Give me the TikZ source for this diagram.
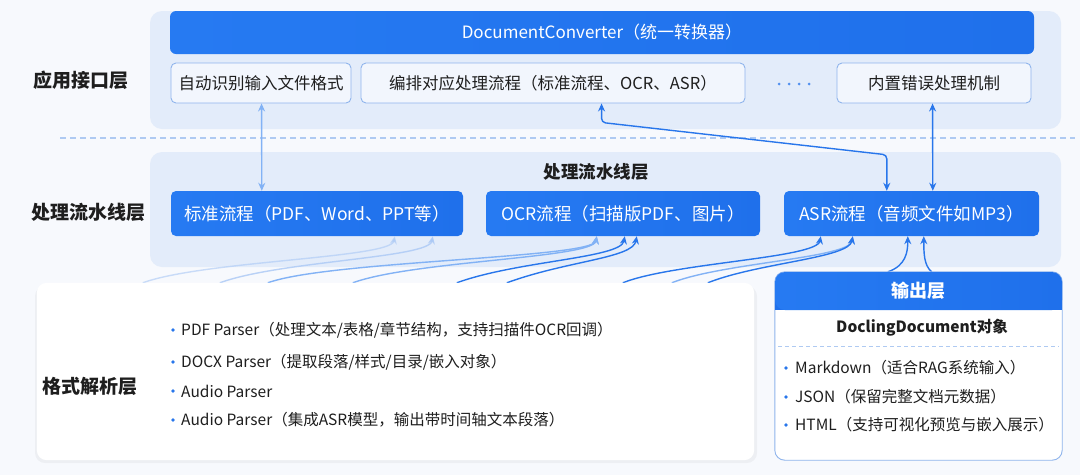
\documentclass[tikz,border=0pt]{standalone}
\usepackage{fontspec}
\setmainfont{Noto Sans CJK SC}
\usetikzlibrary{arrows.meta,calc}
\definecolor{pagebg}{RGB}{247,249,253}
\definecolor{panelc}{RGB}{227,236,250}
\definecolor{barblue}{RGB}{31,112,235}
\definecolor{barblueL}{RGB}{38,122,242}
\definecolor{rowfill}{RGB}{242,246,253}
\definecolor{rowline}{RGB}{143,180,236}
\definecolor{txt}{RGB}{30,30,30}
\definecolor{arrlt}{RGB}{130,178,245}
\definecolor{arrmd}{RGB}{40,118,235}
\definecolor{faintc}{RGB}{170,200,245}
\definecolor{dashc}{RGB}{175,202,242}
\newcommand\lblfnt{\bfseries\fontsize{19pt}{22pt}\selectfont}
\newcommand\boxfnt{\fontsize{16.5pt}{19pt}\selectfont}
\newcommand\barfnt{\fontsize{17pt}{20pt}\selectfont}
\newcommand\pipefnt{\fontsize{17.5pt}{20pt}\selectfont}
\newcommand\listfnt{\fontsize{15.5pt}{18pt}\selectfont}
\tikzset{atip/.tip={Stealth[length=8pt,width=7pt]}}
\begin{document}
\begin{tikzpicture}[x=1pt,y=-1pt,
  lbl/.style={font=\lblfnt, text=txt, inner sep=0pt},
  panel/.style={fill=panelc, rounded corners=12pt, draw=none, inner sep=0pt},
  bar/.style={left color=barblueL, right color=barblue, rounded corners=6pt, inner sep=0pt, text=white, font=\barfnt},
  rowbox/.style={draw=rowline, line width=0.9pt, fill=rowfill, rounded corners=5pt, inner sep=0pt, minimum height=40pt, font=\boxfnt, text=txt},
  pipebox/.style={left color=barblueL, right color=barblue, rounded corners=5pt, inner sep=0pt, minimum height=45pt, text=white, font=\pipefnt},
  listitem/.style={anchor=west, inner sep=0pt, font=\listfnt, text=txt},
  link/.style={line width=1.4pt, draw=#1, atip-atip},
  flow/.style={line width=1.4pt, draw=#1, -atip},
]
% background
\fill[pagebg] (0,0) rectangle (1080,475);
\useasboundingbox (0,0) rectangle (1080,475);

% panels
\node[panel, minimum width=911pt, minimum height=118pt] (toppanel) at (605.5,70) {};
\node[panel, minimum width=911pt, minimum height=115pt] (midpanel) at (605.5,209.5) {};
\draw[dashc, line width=1.2pt, dash pattern=on 6pt off 4pt] (60,138) -- (1075,138);

% layer labels
\node[lbl] (lapi) at (81,80) {应用接口层};
\node[lbl] (lpipe) at (88,212) {处理流水线层};

% application layer
\node[bar, minimum width=864pt, minimum height=43pt] (conv) at (602,32.5) {DocumentConverter（统一转换器）};
\node[rowbox, minimum width=180pt] (r1) at (261,83) {自动识别输入文件格式};
\node[rowbox, minimum width=384pt] (r2) at (553,83) {编排对应处理流程（标准流程、OCR、ASR）};
\node[rowbox, minimum width=194pt] (r4) at (934,83) {内置错误处理机制};
\foreach \dx in {779,789,799,809} \fill[arrmd!80] (\dx,84) circle (1.5pt);

% pipeline layer
\node[font=\bfseries\fontsize{17.5pt}{20pt}\selectfont, text=txt, inner sep=0pt] (ptitle) at (596,172) {处理流水线层};
\node[pipebox, minimum width=292pt] (pA) at (317,213.5) {标准流程（PDF、Word、PPT等）};
\node[pipebox, minimum width=274pt] (pB) at (623,213.5) {OCR流程（扫描版PDF、图片）};
\node[pipebox, minimum width=255pt] (pC) at (911.5,213.5) {ASR流程（音频文件如MP3）};

% links between application and pipeline layer
\draw[link=arrlt] ([xshift=91pt]r1.south west) -- ([xshift=91pt]pA.north west);
\draw[link=arrmd, rounded corners=4pt] ([xshift=241pt]r2.south west) -- ++(0,19) -- ([xshift=103pt,yshift=36pt]pC.north west) -- ([xshift=103pt]pC.north west);
\draw[link=arrmd] ([xshift=96pt]r4.south west) -- ([xshift=149pt]pC.north west);

% anchors of the lower boxes
\path (395.5,371.5) node[minimum width=717pt, minimum height=177pt, inner sep=0pt] (parse) {};
\path (918.5,366) node[minimum width=287pt, minimum height=188pt, inner sep=0pt] (out) {};

% curves from the parsing layer into the pipelines
\draw[flow=faintc, opacity=0.6] ([xshift=106pt]parse.north west) .. controls +(60,-22) and +(-4,22) .. ([xshift=224pt]pA.south west);
\draw[flow=faintc, opacity=0.8] ([xshift=183pt]parse.north west) .. controls +(60,-22) and +(-4,22) .. ([xshift=262pt]pA.south west);
\draw[flow=arrlt] ([xshift=231pt]parse.north west) .. controls +(60,-22) and +(-4,22) .. ([xshift=111pt]pB.south west);
\draw[flow=arrlt] ([xshift=316pt]parse.north west) .. controls +(60,-22) and +(-4,22) .. ([xshift=111pt]pB.south west);
\draw[flow=arrmd] ([xshift=420pt]parse.north west) .. controls +(60,-22) and +(-4,22) .. ([xshift=139pt]pB.south west);
\draw[flow=arrmd] ([xshift=470pt]parse.north west) .. controls +(60,-22) and +(-4,22) .. ([xshift=151pt]pB.south west);
\draw[flow=arrmd] ([xshift=586pt]parse.north west) .. controls +(50,-20) and +(-4,22) .. ([xshift=37pt]pC.south west);
\draw[flow=arrlt] ([xshift=635pt]parse.north west) .. controls +(50,-20) and +(-4,22) .. ([xshift=69pt]pC.south west);
\draw[flow=arrmd] ([xshift=671pt]parse.north west) .. controls +(50,-20) and +(-4,22) .. ([xshift=69pt]pC.south west);
\draw[flow=arrmd] ([xshift=113pt]out.north west) .. controls +(18,-6) and +(0,16) .. ([xshift=124pt]pC.south west);
\draw[flow=arrmd] ([xshift=157pt]out.north west) .. controls +(-8,-6) and +(0,16) .. ([xshift=140pt]pC.south west);

% parsing layer box
\fill[black, opacity=0.04, rounded corners=10pt] (35,286) rectangle (757,463);
\fill[white, rounded corners=10pt] (parse.north west) rectangle (parse.south east);
\node[lbl] (lparse) at (90,386) {格式解析层};
\fill[arrmd] (173,330) circle (1.8pt);
\fill[arrmd] (173,362) circle (1.8pt);
\fill[arrmd] (173,391) circle (1.8pt);
\fill[arrmd] (173,420) circle (1.8pt);
\node[listitem] (p1) at (181,330) {PDF Parser（处理文本/表格/章节结构，支持扫描件OCR回调）};
\node[listitem] (p2) at (181,362) {DOCX Parser（提取段落/样式/目录/嵌入对象）};
\node[listitem] (p3) at (181,391) {Audio Parser};
\node[listitem] (p4) at (181,420) {Audio Parser（集成ASR模型，输出带时间轴文本段落）};

% output layer box
\draw[rowline, line width=0.9pt, fill=white, rounded corners=10pt] (out.north west) rectangle (out.south east);
\fill[barblue] (775,290) rectangle (1062,310);
\node[left color=barblueL, right color=barblue, rounded corners=10pt, minimum width=287pt, minimum height=38pt, inner sep=0pt, text=white, font=\bfseries\fontsize{18pt}{21pt}\selectfont] (outh) at (918.5,291) {输出层};
\node[font=\bfseries\fontsize{15.5pt}{18pt}\selectfont, text=txt, inner sep=0pt] (doc) at (922,328) {DoclingDocument对象};
\draw[dashc, line width=1pt, dash pattern=on 4pt off 3pt] (778,346) -- (1059,346);
\fill[arrmd] (786,368) circle (1.8pt);
\fill[arrmd] (786,397) circle (1.8pt);
\fill[arrmd] (786,425) circle (1.8pt);
\node[listitem] (o1) at (795,368) {Markdown（适合RAG系统输入）};
\node[listitem] (o2) at (795,397) {JSON（保留完整文档元数据）};
\node[listitem] (o3) at (795,425) {HTML（支持可视化预览与嵌入展示）};
\end{tikzpicture}
\end{document}
